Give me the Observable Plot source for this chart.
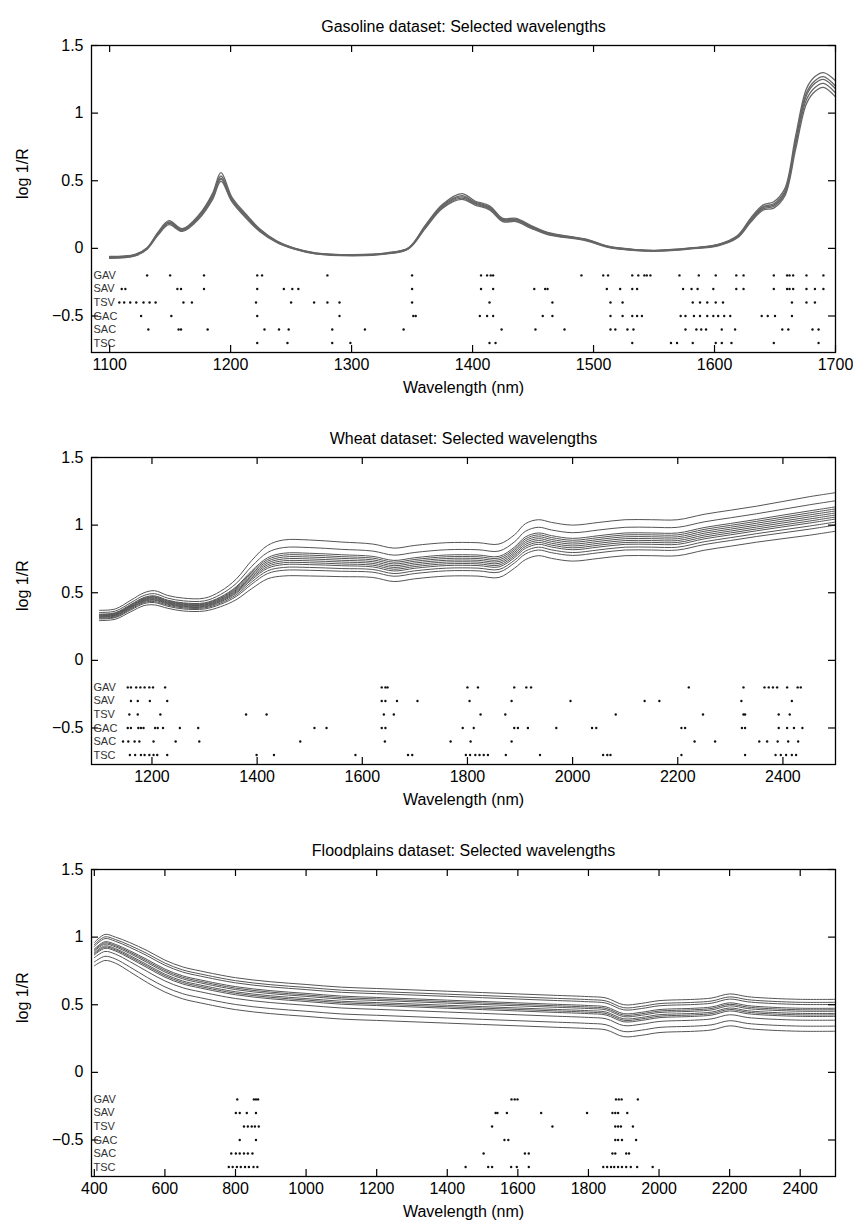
<!DOCTYPE html>
<html><head><meta charset="utf-8">
<script src="https://cdn.jsdelivr.net/npm/d3@7"></script>
<script src="https://cdn.jsdelivr.net/npm/@observablehq/plot@0.6"></script>
<style>body{margin:0;background:#fff;} #chart svg{display:block;}</style>
</head><body><div id="chart"></div>
<script>
// ---------- shared ----------
const methods = ["GAV","SAV","TSV","GAC","SAC","TSC"];
const methodLevels = [-0.2,-0.3,-0.4,-0.5,-0.6,-0.7];
const yTicks = [-0.5,0,0.5,1,1.5];
const yDomain = [-0.77, 1.5];

// ---------- Gasoline ----------
const gasTitle = "Gasoline dataset: Selected wavelengths";
const gasXTicks = [1100,1200,1300,1400,1500,1600,1700];
const gasXDomain = [1085,1700];
const gasWl = [1100,1121,1131,1140,1149,1160,1174,1185,1192,1201,1213,1224,1238,1252,1270,1302,1329,1347,1361,1375,1391,1402,1414,1425,1436,1448,1462,1494,1512,1535,1553,1580,1603,1619,1630,1640,1649,1658,1667,1676,1683,1690,1700];
const gasSpectra = [
 [-0.06,-0.045,0.005,0.12,0.205,0.145,0.25,0.405,0.56,0.38,0.25,0.145,0.055,0.003,-0.033,-0.046,-0.033,0.004,0.172,0.325,0.405,0.35,0.315,0.222,0.222,0.17,0.118,0.068,0.016,-0.009,-0.014,0.003,0.03,0.095,0.225,0.32,0.345,0.44,0.83,1.18,1.27,1.3,1.24],
 [-0.064,-0.048,0.002,0.115,0.195,0.14,0.242,0.395,0.535,0.37,0.242,0.14,0.052,0.001,-0.035,-0.048,-0.035,0.002,0.165,0.317,0.39,0.342,0.307,0.215,0.215,0.165,0.114,0.065,0.014,-0.011,-0.016,0.001,0.027,0.09,0.215,0.308,0.33,0.42,0.8,1.15,1.24,1.27,1.2],
 [-0.067,-0.05,0,0.11,0.19,0.135,0.235,0.385,0.52,0.36,0.235,0.135,0.05,0,-0.037,-0.05,-0.037,0,0.16,0.31,0.38,0.335,0.3,0.21,0.21,0.16,0.11,0.062,0.012,-0.012,-0.017,0,0.025,0.087,0.21,0.3,0.32,0.41,0.78,1.13,1.22,1.25,1.18],
 [-0.07,-0.053,-0.003,0.105,0.185,0.13,0.228,0.375,0.51,0.352,0.228,0.13,0.047,-0.002,-0.039,-0.052,-0.039,-0.002,0.155,0.303,0.372,0.328,0.294,0.205,0.204,0.155,0.106,0.059,0.01,-0.014,-0.019,-0.002,0.022,0.083,0.203,0.292,0.31,0.4,0.76,1.1,1.19,1.22,1.15],
 [-0.074,-0.056,-0.006,0.098,0.175,0.125,0.22,0.36,0.495,0.345,0.22,0.125,0.044,-0.004,-0.041,-0.055,-0.041,-0.004,0.148,0.295,0.362,0.32,0.285,0.198,0.198,0.15,0.102,0.056,0.008,-0.016,-0.021,-0.004,0.019,0.078,0.195,0.282,0.298,0.385,0.73,1.07,1.16,1.19,1.12]
];
const gasGAV = [1131,1150,1178,1222,1226,1280,1350,1407,1412,1415,1417,1490,1508,1512,1532,1537,1542,1544,1547,1571,1587,1601,1618,1624,1649,1660,1662,1665,1676,1690];
const gasSAV = [1110,1113,1156,1159,1178,1222,1244,1251,1256,1350,1407,1417,1451,1460,1462,1511,1522,1532,1536,1574,1581,1586,1599,1618,1624,1649,1660,1662,1665,1676,1683,1690];
const gasTSV = [1108,1112,1117,1122,1128,1133,1138,1161,1168,1221,1250,1269,1280,1290,1350,1414,1466,1514,1524,1582,1588,1594,1601,1607,1664,1676,1683];
const gasGAC = [1126,1151,1222,1290,1351,1353,1406,1412,1417,1458,1466,1514,1524,1532,1536,1540,1572,1576,1583,1588,1594,1599,1603,1608,1613,1639,1644,1650,1664];
const gasSAC = [1132,1157,1159,1181,1228,1240,1248,1284,1311,1343,1424,1452,1476,1514,1518,1528,1533,1576,1585,1589,1593,1606,1617,1656,1661,1681,1686];
const gasTSC = [1222,1247,1284,1299,1414,1419,1532,1564,1569,1582,1601,1606,1614,1649,1686];

// ---------- Wheat ----------
const wheatTitle = "Wheat dataset: Selected wavelengths";
const wheatXTicks = [1200,1400,1600,1800,2000,2200,2400];
const wheatXDomain = [1085,2500];
const wheatWl = [1100,1130,1160,1185,1205,1230,1260,1300,1330,1360,1390,1420,1450,1500,1560,1620,1660,1700,1760,1820,1860,1890,1910,1935,1960,2000,2050,2100,2150,2200,2250,2300,2350,2400,2450,2500];
const wheatSpectra = [
 [0.37,0.38,0.445,0.50,0.515,0.48,0.46,0.46,0.51,0.60,0.74,0.85,0.89,0.89,0.875,0.86,0.83,0.85,0.87,0.87,0.86,0.93,1.01,1.04,1.02,1.00,1.02,1.04,1.04,1.04,1.08,1.11,1.14,1.175,1.21,1.24],
 [0.354,0.364,0.427,0.48,0.493,0.46,0.44,0.44,0.486,0.568,0.696,0.798,0.834,0.834,0.821,0.808,0.778,0.798,0.818,0.818,0.808,0.878,0.954,0.984,0.964,0.944,0.964,0.984,0.984,0.984,1.024,1.054,1.084,1.117,1.15,1.18],
 [0.342,0.352,0.414,0.465,0.477,0.445,0.425,0.425,0.468,0.544,0.663,0.759,0.792,0.792,0.781,0.769,0.739,0.759,0.779,0.779,0.769,0.839,0.912,0.942,0.922,0.902,0.922,0.942,0.942,0.942,0.982,1.012,1.042,1.074,1.105,1.135],
 [0.338,0.348,0.409,0.46,0.471,0.44,0.42,0.42,0.462,0.536,0.652,0.746,0.778,0.778,0.767,0.756,0.726,0.746,0.766,0.766,0.756,0.826,0.898,0.928,0.908,0.888,0.908,0.928,0.928,0.928,0.968,0.998,1.028,1.059,1.09,1.12],
 [0.334,0.344,0.405,0.455,0.466,0.435,0.415,0.415,0.456,0.528,0.641,0.733,0.764,0.764,0.754,0.743,0.713,0.733,0.753,0.753,0.743,0.813,0.884,0.914,0.894,0.874,0.894,0.914,0.914,0.914,0.954,0.984,1.014,1.045,1.075,1.105],
 [0.33,0.34,0.40,0.45,0.46,0.43,0.41,0.41,0.45,0.52,0.63,0.72,0.75,0.75,0.74,0.73,0.70,0.72,0.74,0.74,0.73,0.80,0.87,0.90,0.88,0.86,0.88,0.90,0.90,0.90,0.94,0.97,1.00,1.03,1.06,1.09],
 [0.326,0.336,0.396,0.445,0.455,0.425,0.405,0.405,0.444,0.512,0.619,0.707,0.736,0.736,0.727,0.717,0.687,0.707,0.727,0.727,0.717,0.787,0.856,0.886,0.866,0.846,0.866,0.886,0.886,0.886,0.926,0.956,0.986,1.016,1.045,1.075],
 [0.322,0.332,0.391,0.44,0.449,0.42,0.40,0.40,0.438,0.504,0.608,0.694,0.722,0.722,0.713,0.704,0.674,0.694,0.714,0.714,0.704,0.774,0.842,0.872,0.852,0.832,0.852,0.872,0.872,0.872,0.912,0.942,0.972,1.001,1.03,1.06],
 [0.318,0.328,0.387,0.435,0.444,0.415,0.395,0.395,0.432,0.496,0.597,0.681,0.708,0.708,0.70,0.691,0.661,0.681,0.701,0.701,0.691,0.761,0.828,0.858,0.838,0.818,0.838,0.858,0.858,0.858,0.898,0.928,0.958,0.987,1.015,1.045],
 [0.312,0.322,0.38,0.428,0.435,0.408,0.388,0.388,0.423,0.484,0.581,0.662,0.687,0.687,0.679,0.672,0.642,0.662,0.682,0.682,0.672,0.742,0.807,0.837,0.817,0.797,0.817,0.837,0.837,0.837,0.877,0.907,0.937,0.965,0.993,1.023],
 [0.306,0.316,0.373,0.42,0.427,0.40,0.38,0.38,0.414,0.472,0.564,0.642,0.666,0.666,0.659,0.652,0.622,0.642,0.662,0.662,0.652,0.722,0.786,0.816,0.796,0.776,0.796,0.816,0.816,0.816,0.856,0.886,0.916,0.943,0.97,1.0],
 [0.294,0.304,0.36,0.405,0.41,0.385,0.365,0.365,0.396,0.448,0.531,0.603,0.624,0.624,0.619,0.613,0.583,0.603,0.623,0.623,0.613,0.683,0.744,0.774,0.754,0.734,0.754,0.774,0.774,0.774,0.814,0.844,0.874,0.90,0.925,0.955]
];
const wheatGAV = [1154,1160,1170,1178,1186,1195,1202,1225,1637,1644,1648,1800,1820,1889,1912,1921,2221,2325,2365,2373,2381,2389,2408,2428,2434];
const wheatSAV = [1160,1173,1196,1229,1637,1644,1666,1705,1804,1884,1996,2137,2165,2321,2417];
const wheatTSV = [1157,1173,1216,1379,1418,1641,1660,1825,1872,2082,2248,2325,2328,2392,2413];
const wheatGAC = [1154,1160,1174,1179,1184,1206,1211,1221,1253,1288,1509,1532,1637,1644,1791,1812,1889,1896,1915,1969,2037,2045,2207,2214,2322,2328,2392,2408,2421,2437];
const wheatSAC = [1145,1155,1167,1176,1203,1245,1290,1482,1643,1768,1806,1884,2232,2271,2355,2370,2390,2410,2429];
const wheatTSC = [1158,1168,1179,1186,1195,1203,1210,1229,1399,1432,1587,1687,1695,1797,1805,1815,1823,1831,1839,1873,1938,2058,2066,2072,2207,2328,2386,2396,2406,2417,2425];

// ---------- Floodplains ----------
const floodTitle = "Floodplains dataset: Selected wavelengths";
const floodXTicks = [400,600,800,1000,1200,1400,1600,1800,2000,2200,2400];
const floodXDomain = [392,2500];
const floodWl = [400,430,460,500,550,600,650,700,800,900,1000,1100,1200,1300,1400,1500,1600,1700,1800,1850,1900,1950,2000,2100,2150,2200,2250,2300,2400,2500];
const floodSpectra = [
 [0.96,1.02,1.0,0.96,0.9,0.83,0.78,0.75,0.70,0.67,0.65,0.63,0.62,0.61,0.60,0.59,0.58,0.57,0.56,0.55,0.50,0.51,0.53,0.54,0.55,0.58,0.56,0.55,0.54,0.54],
 [0.944,1.002,0.982,0.94,0.878,0.808,0.758,0.728,0.678,0.648,0.628,0.608,0.598,0.588,0.578,0.568,0.558,0.548,0.538,0.528,0.478,0.488,0.508,0.518,0.528,0.558,0.538,0.528,0.518,0.518],
 [0.932,0.989,0.969,0.925,0.862,0.792,0.742,0.712,0.662,0.632,0.612,0.592,0.582,0.572,0.562,0.552,0.542,0.532,0.522,0.512,0.462,0.472,0.492,0.502,0.512,0.542,0.522,0.512,0.502,0.502],
 [0.912,0.966,0.946,0.90,0.834,0.764,0.714,0.684,0.634,0.604,0.584,0.564,0.554,0.544,0.534,0.524,0.514,0.504,0.494,0.484,0.434,0.444,0.464,0.474,0.484,0.514,0.494,0.484,0.474,0.474],
 [0.904,0.957,0.937,0.89,0.823,0.753,0.703,0.673,0.623,0.593,0.573,0.553,0.543,0.533,0.523,0.513,0.503,0.493,0.483,0.473,0.423,0.433,0.453,0.463,0.473,0.503,0.483,0.473,0.463,0.463],
 [0.896,0.948,0.928,0.88,0.812,0.742,0.692,0.662,0.612,0.582,0.562,0.542,0.532,0.522,0.512,0.502,0.492,0.482,0.472,0.462,0.412,0.422,0.442,0.452,0.462,0.492,0.472,0.462,0.452,0.452],
 [0.884,0.935,0.915,0.865,0.796,0.726,0.676,0.646,0.596,0.566,0.546,0.526,0.516,0.506,0.496,0.486,0.476,0.466,0.456,0.446,0.396,0.406,0.426,0.436,0.446,0.476,0.456,0.446,0.436,0.436],
 [0.876,0.926,0.906,0.855,0.785,0.715,0.665,0.635,0.585,0.555,0.535,0.515,0.505,0.495,0.485,0.475,0.465,0.455,0.445,0.435,0.385,0.395,0.415,0.425,0.435,0.465,0.445,0.435,0.425,0.425],
 [0.868,0.917,0.897,0.845,0.774,0.704,0.654,0.624,0.574,0.544,0.524,0.504,0.494,0.484,0.474,0.464,0.454,0.444,0.434,0.424,0.374,0.384,0.404,0.414,0.424,0.454,0.434,0.424,0.414,0.414],
 [0.848,0.894,0.874,0.82,0.746,0.676,0.626,0.596,0.546,0.516,0.496,0.476,0.466,0.456,0.446,0.436,0.426,0.416,0.406,0.396,0.346,0.356,0.376,0.386,0.396,0.426,0.406,0.396,0.386,0.386],
 [0.816,0.858,0.838,0.78,0.702,0.632,0.582,0.552,0.502,0.472,0.452,0.432,0.422,0.412,0.402,0.392,0.382,0.372,0.362,0.352,0.302,0.312,0.332,0.342,0.352,0.382,0.362,0.352,0.342,0.342],
 [0.788,0.827,0.807,0.745,0.664,0.594,0.544,0.514,0.464,0.434,0.414,0.394,0.384,0.374,0.364,0.354,0.344,0.334,0.324,0.314,0.264,0.274,0.294,0.304,0.314,0.344,0.324,0.314,0.304,0.304]
];
const floodGAV = [805,852,858,864,1582,1591,1599,1878,1886,1894,1940];
const floodSAV = [801,812,832,858,1537,1542,1569,1666,1796,1868,1876,1884,1910];
const floodTSV = [824,835,846,855,866,1527,1698,1876,1884,1892,1926];
const floodGAC = [812,858,1562,1573,1876,1884,1895,1935];
const floodSAC = [788,801,812,824,835,848,1503,1620,1631,1868,1876,1907,1915];
const floodTSC = [781,792,804,815,827,838,851,862,1452,1516,1527,1581,1597,1631,1842,1853,1864,1873,1884,1895,1907,1920,1938,1982];

// ---------- drawing ----------
const FONT = "'Liberation Sans', Arial, Helvetica, sans-serif";
const W = 853;
const fmt = d => d < 0 ? "\u2212" + Math.abs(d) : String(d);

function panel({title, xDomain, xTicks, wl, spectra, selections, height, marginBottom, lineColor, lineWidth}) {
  const mt = 45, ml = 91, mr = 18;
  const innerH = height - mt - marginBottom, innerW = W - ml - mr;
  const tick = 7;
  const lines = spectra.flatMap((s, k) => s.map((v, i) => ({x: wl[i], y: v, k})));
  const dots = selections.flatMap((arr, j) => arr.map(x => ({x, y: methodLevels[j]})));
  const labels = methods.map((m, j) => ({m, y: methodLevels[j]}));
  return Plot.plot({
    width: W, height, marginTop: mt, marginBottom, marginLeft: ml, marginRight: mr,
    style: {fontFamily: FONT, background: "#fff", color: "#000"},
    x: {domain: xDomain},
    y: {domain: yDomain},
    marks: [
      Plot.line(lines, {x: "x", y: "y", z: "k", stroke: lineColor, strokeWidth: lineWidth, curve: "catmull-rom"}),
      Plot.dot(dots, {x: "x", y: "y", r: 1.2, fill: "#111", stroke: null}),
      Plot.text(labels, {frameAnchor: "left", y: "y", text: "m", textAnchor: "start", dx: 2, fontSize: 11, fill: "#333"}),
      Plot.frame({stroke: "#000", strokeWidth: 1.3}),
      Plot.tickX(xTicks, {x: d => d, insetTop: innerH - tick, stroke: "#000", strokeWidth: 1.2}),
      Plot.tickX(xTicks, {x: d => d, insetBottom: innerH - tick, stroke: "#000", strokeWidth: 1.2}),
      Plot.tickY(yTicks, {y: d => d, insetRight: innerW - tick, stroke: "#000", strokeWidth: 1.2}),
      Plot.tickY(yTicks, {y: d => d, insetLeft: innerW - tick, stroke: "#000", strokeWidth: 1.2}),
      Plot.axisX({ticks: xTicks, tickSize: 0, tickPadding: 6, fontSize: 16, label: null, tickFormat: fmt}),
      Plot.axisY({ticks: yTicks, tickSize: 0, tickPadding: 8, fontSize: 16, label: null, tickFormat: fmt}),
      Plot.text([title], {frameAnchor: "top", dy: -25, fontSize: 16, fill: "#000"}),
      Plot.text(["Wavelength (nm)"], {frameAnchor: "bottom", dy: 40, fontSize: 16, fill: "#000"}),
      Plot.text(["log 1/R"], {frameAnchor: "left", dx: -69, rotate: -90, fontSize: 16, fill: "#000"})
    ]
  });
}

const chart = document.getElementById("chart");
chart.append(panel({title: gasTitle, xDomain: gasXDomain, xTicks: gasXTicks, wl: gasWl, spectra: gasSpectra,
  selections: [gasGAV, gasSAV, gasTSV, gasGAC, gasSAC, gasTSC], height: 412, marginBottom: 60, lineColor: "#666", lineWidth: 1.3}));
chart.append(panel({title: wheatTitle, xDomain: wheatXDomain, xTicks: wheatXTicks, wl: wheatWl, spectra: wheatSpectra,
  selections: [wheatGAV, wheatSAV, wheatTSV, wheatGAC, wheatSAC, wheatTSC], height: 412, marginBottom: 60, lineColor: "#555", lineWidth: 1}));
chart.append(panel({title: floodTitle, xDomain: floodXDomain, xTicks: floodXTicks, wl: floodWl, spectra: floodSpectra,
  selections: [floodGAV, floodSAV, floodTSV, floodGAC, floodSAC, floodTSC], height: 404, marginBottom: 52, lineColor: "#555", lineWidth: 1}));
</script></body></html>
